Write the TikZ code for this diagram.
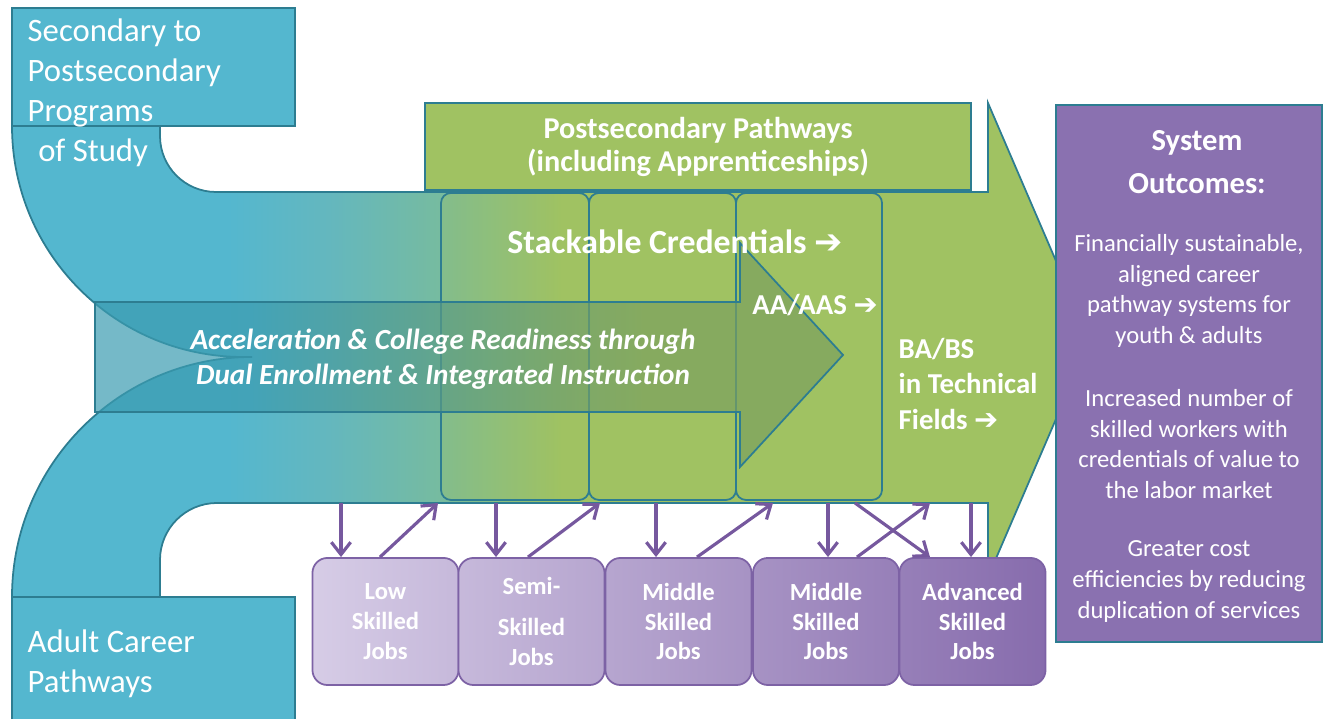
\documentclass[tikz,border=0pt]{standalone}
\usepackage{fontspec}
\setmainfont{Carlito}
\newfontfamily\arrowfont{DejaVu Sans}
\usetikzlibrary{arrows.meta}

\definecolor{pathblue}{RGB}{84,183,207}
\definecolor{pathsky}{RGB}{100,183,190}
\definecolor{pathteal}{RGB}{118,187,160}
\definecolor{pathgreen}{RGB}{160,194,98}
\definecolor{edgeteal}{RGB}{45,125,145}
\definecolor{accblue}{RGB}{59,155,176}
\definecolor{accteal}{RGB}{92,156,131}
\definecolor{accgreen}{RGB}{124,160,94}
\definecolor{outpurple}{RGB}{138,113,176}
\definecolor{joblight}{RGB}{214,204,230}
\definecolor{jobdark}{RGB}{135,108,173}
\definecolor{jobedge}{RGB}{125,98,165}
\definecolor{arrowpurple}{RGB}{118,88,158}

\pgfdeclarehorizontalshading{bandshade}{100bp}{color(0bp)=(pathblue); color(35bp)=(pathblue); color(39.7bp)=(pathsky); color(44.8bp)=(pathteal); color(50.5bp)=(pathgreen); color(100bp)=(pathgreen)}
\pgfdeclarehorizontalshading{accshade}{100bp}{color(0bp)=(accblue); color(35.4bp)=(accblue); color(48.7bp)=(accteal); color(62.1bp)=(accgreen); color(100bp)=(accgreen)}

\newcommand{\nextarr}{{\arrowfont\symbol{"2794}}}

\tikzset{
	every node/.style={text=white, inner sep=0pt},
	srcbox/.style={fill=pathblue, draw=edgeteal, line width=0.5pt},
	srctext/.style={align=left, font=\fontsize{9.3}{11.4}\selectfont},
	pathbox/.style={fill=pathgreen, draw=edgeteal, line width=0.5pt, align=center,
		minimum width=5.46cm, minimum height=0.87cm, font=\bfseries\fontsize{8.6}{9.4}\selectfont},
	accarrow/.style={shading=accshade, fill opacity=0.7, draw=edgeteal, line width=0.5pt},
	credcol/.style={fill=pathgreen, fill opacity=0.3, draw=edgeteal, line width=0.5pt, rounded corners=0.1cm},
	stacktext/.style={font=\bfseries\fontsize{9.6}{11}\selectfont},
	acctext/.style={align=center, font=\bfseries\itshape\fontsize{8.3}{10}\selectfont},
	degtext/.style={align=left, font=\bfseries\fontsize{8.2}{10.2}\selectfont},
	outbox/.style={fill=outpurple, draw=edgeteal, line width=0.5pt, minimum width=2.66cm, minimum height=5.37cm},
	outtitle/.style={align=center, font=\bfseries\fontsize{8.7}{12.2}\selectfont},
	outtext/.style={align=center, font=\fontsize{7}{8.7}\selectfont},
	jobbox/.style={draw=jobedge, line width=0.5pt, rounded corners=0.15cm, align=center,
		minimum width=1.46cm, minimum height=1.27cm, font=\bfseries\fontsize{7}{8.5}\selectfont},
	jobarrow/.style={draw=arrowpurple, line width=0.9pt, -{Straight Barb[length=3.5pt, width=5.5pt]}}
}

\begin{document}
\begin{tikzpicture}[x=0.01cm, y=0.01cm]
	\useasboundingbox (0,0) rectangle (1327,719);
	\shadedraw[shading=bandshade, draw=edgeteal, line width=0.5pt]
		(12,593) -- (160,593) -- (160,583) arc[start angle=180, end angle=270, radius=56]
		-- (988,527) -- (988,616) -- (1090,379) -- (988,142) -- (988,216)
		-- (217,216) arc[start angle=90, end angle=180, radius=57]
		-- (160,122) -- (12,122) arc[start angle=180, end angle=90, radius=240]
		-- (243,362) arc[start angle=270, end angle=180, radius=231] -- cycle;
	\draw[srcbox] (12,593) rectangle (295,711);
	\draw[srcbox] (12,122) rectangle (295,-5);
	\node[srctext, anchor=north west] (secondary) at (27,701) {Secondary to\\Postsecondary\\Programs\\\hspace*{3pt}of Study};
	\node[srctext, anchor=north west] (adult) at (27,90) {Adult Career\\Pathways};
	\node[pathbox] (post) at (698,572.5) {Postsecondary Pathways\\(including Apprenticeships)};
	\draw[credcol] (441,219) rectangle (589,526);
	\draw[credcol] (589,219) rectangle (736,526);
	\draw[credcol] (736,219) rectangle (882,526);
	\shadedraw[accarrow] (95,417) -- (740,417) -- (740,476) -- (843,364) -- (740,252) -- (740,307) -- (95,307) -- cycle;
	\node[acctext] (acc) at (443,360) {Acceleration \& College Readiness through\\Dual Enrollment \& Integrated Instruction};
	\node[stacktext] (stack) at (675,477) {Stackable Credentials \nextarr};
	\node[degtext] (aa) at (815,414) {AA/AAS \nextarr};
	\node[degtext, anchor=west] (babs) at (898,335) {BA/BS\\in Technical\\Fields \nextarr};
	\node[outbox] (outcomes) at (1189,345.5) {};
	\node[outtitle] (outhead) at (1197,557) {System\\Outcomes:};
	\node[outtext] (out1) at (1189,428) {Financially sustainable,\\aligned career\\pathway systems for\\youth \& adults};
	\node[outtext] (out2) at (1189,275) {Increased number of\\skilled workers with\\credentials of value to\\the labor market};
	\node[outtext] (out3) at (1189,137.5) {Greater cost\\efficiencies by reducing\\duplication of services};
	\node[jobbox, left color=jobdark!0!joblight, right color=jobdark!20!joblight] (low) at (385.5,97.5) {Low\\Skilled\\Jobs};
	\node[jobbox, left color=jobdark!20!joblight, right color=jobdark!40!joblight] (semi) at (531.5,97.5) {Semi-\\[3pt]Skilled\\Jobs};
	\node[jobbox, left color=jobdark!40!joblight, right color=jobdark!60!joblight] (midA) at (678.5,97.5) {Middle\\Skilled\\Jobs};
	\node[jobbox, left color=jobdark!60!joblight, right color=jobdark!80!joblight] (midB) at (826,97.5) {Middle\\Skilled\\Jobs};
	\node[jobbox, left color=jobdark!80!joblight, right color=jobdark] (adv) at (972.5,97.5) {Advanced\\Skilled\\Jobs};
	\coordinate (b1) at (341,216);
	\coordinate (b2) at (496,216);
	\coordinate (b3) at (656,216);
	\coordinate (b4) at (828,216);
	\coordinate (b5) at (971,216);
	\coordinate (t1) at (438,216);
	\coordinate (t2) at (600,216);
	\coordinate (t3) at (773,216);
	\coordinate (t4) at (930,216);
	\coordinate (t5) at (855,216);
	\draw[jobarrow] (b1) -- (b1 |- low.north);
	\draw[jobarrow] (b2) -- (b2 |- semi.north);
	\draw[jobarrow] (b3) -- (b3 |- midA.north);
	\draw[jobarrow] (b4) -- (b4 |- midB.north);
	\draw[jobarrow] (b5) -- (b5 |- adv.north);
	\draw[jobarrow] ([xshift=-0.055cm]low.north) -- (t1);
	\draw[jobarrow] ([xshift=-0.035cm]semi.north) -- (t2);
	\draw[jobarrow] ([xshift=0.185cm]midA.north) -- (t3);
	\draw[jobarrow] ([xshift=0.31cm]midB.north) -- (t4);
	\draw[jobarrow] (t5) -- ([xshift=-0.425cm]adv.north);
\end{tikzpicture}
\end{document}
